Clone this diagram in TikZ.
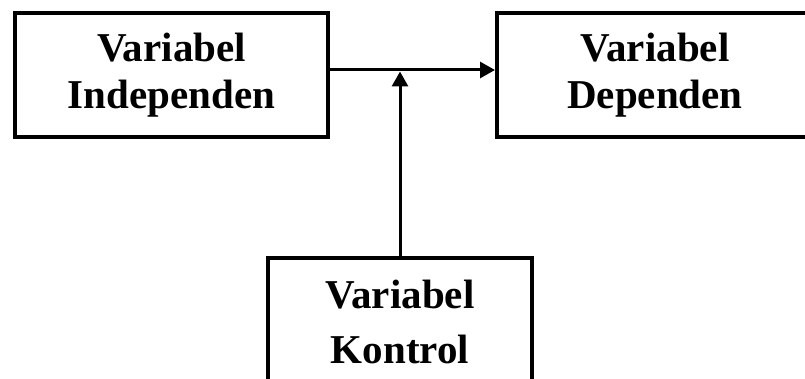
\documentclass[tikz,border=0pt]{standalone}
\usepackage{fontspec}
\setmainfont{Liberation Serif}
\usetikzlibrary{arrows.meta}
\begin{document}
\begin{tikzpicture}[x=1pt,y=-1pt,
  varbox/.style={draw, line width=4pt, align=center, inner sep=0pt,
    font=\fontsize{41}{47}\selectfont\bfseries},
  link/.style={line width=3pt, -{Triangle[length=15pt,width=16pt]}}]
\useasboundingbox (0,0) rectangle (805,379);
% the three variables
\node[varbox, minimum width=313pt, minimum height=124pt] (ind) at (171.5,75) {Variabel\\Independen};
\node[varbox, minimum width=316pt, minimum height=124pt] (dep) at (655,75) {Variabel\\Dependen};
\node[varbox, minimum width=264pt, minimum height=128pt] (ctl) at (400,322) {Variabel\\[8pt]Kontrol};
% effect of the independent on the dependent variable
\draw[link] ([yshift=5pt]ind.east) -- ([yshift=5pt]dep.west);
% the control variable acting on that effect
\draw[link, shorten >=1.5pt] (ctl.north) -- (ctl.north |- 0,70);
\end{tikzpicture}
\end{document}
